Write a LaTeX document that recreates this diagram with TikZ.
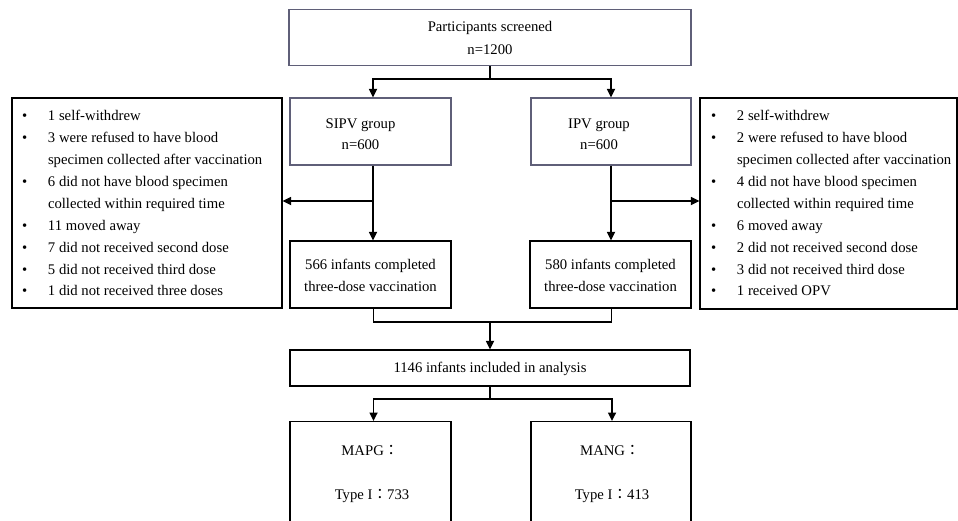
\documentclass[tikz,border=0pt]{standalone}
\usepackage{fontspec}
\setmainfont{Liberation Serif}
\newfontfamily\cjk{Noto Sans CJK TC}
\usetikzlibrary{arrows.meta}
\definecolor{edgegray}{RGB}{95,95,120}
\newcommand\myitem[1]{\makebox[26pt][l]{\textbullet}#1}
\newcommand\mycont[1]{\hspace*{26pt}#1}
% centred text block: x shift, y raise, lines
\newcommand\ctext[3]{\raisebox{#2}[\height][\depth]{\hspace*{#1}\begin{tabular}{@{}c@{}}#3\end{tabular}\hspace*{-#1}}}
% left-aligned text block: width, y raise, lines
\newcommand\ltext[3]{\raisebox{#2}[\height][\depth]{\makebox[#1][l]{\begin{tabular}{@{}l@{}}#3\end{tabular}}}}
\begin{document}
\begin{tikzpicture}[x=1pt,y=-1pt,
  box/.style={draw=black, line width=1.1pt, rectangle, inner sep=0pt},
  gbox/.style={box, draw=edgegray},
  lbl/.style={inner sep=0pt, font=\fontsize{14.7}{23}\selectfont, anchor=base},
  conn/.style={line width=1.7pt},
  arr/.style={conn, -{Triangle[length=8.5pt,width=8pt]}},
]
\clip (0,0) rectangle (958,520);
\fill[white] (0,0) rectangle (958,520);

% boxes
\node[gbox, minimum width=402pt, minimum height=56pt, font=\fontsize{14.7}{23}\selectfont] (top) at (490,37.5)
  {\ctext{0pt}{-1pt}{Participants screened\\n=1200}};
\node[gbox, minimum width=161pt, minimum height=67pt, font=\fontsize{14.7}{21}\selectfont] (sipv) at (370.5,131.5)
  {\ctext{-10pt}{-3pt}{SIPV group\\n=600}};
\node[gbox, minimum width=160pt, minimum height=67pt, font=\fontsize{14.7}{21}\selectfont] (ipv) at (611,131.5)
  {\ctext{-12pt}{-3pt}{IPV group\\n=600}};

\node[box, minimum width=270pt, minimum height=210pt, font=\fontsize{14.7}{21.9}\selectfont] (left) at (147,203)
  {\ltext{250pt}{-1pt}{\myitem{1 self-withdrew}\\
   \myitem{3 were refused to have blood}\\
   \mycont{specimen collected after vaccination}\\
   \myitem{6 did not have blood specimen}\\
   \mycont{collected within required time}\\
   \myitem{11 moved away}\\
   \myitem{7 did not received second dose}\\
   \myitem{5 did not received third dose}\\
   \myitem{1 did not received three doses}}};

\node[box, minimum width=257pt, minimum height=211pt, font=\fontsize{14.7}{21.9}\selectfont] (right) at (828.5,203.5)
  {\ltext{235pt}{-0.5pt}{\myitem{2 self-withdrew}\\
   \myitem{2 were refused to have blood}\\
   \mycont{specimen collected after vaccination}\\
   \myitem{4 did not have blood specimen}\\
   \mycont{collected within required time}\\
   \myitem{6 moved away}\\
   \myitem{2 did not received second dose}\\
   \myitem{3 did not received third dose}\\
   \myitem{1 received OPV}}};

\node[box, minimum width=161pt, minimum height=67pt, font=\fontsize{14.7}{22.4}\selectfont] (c566) at (370.5,274.5)
  {\ctext{0pt}{-1.5pt}{566 infants completed\\three-dose vaccination}};
\node[box, minimum width=161pt, minimum height=67pt, font=\fontsize{14.7}{22.4}\selectfont] (c580) at (610.5,274.5)
  {\ctext{0pt}{-1.5pt}{580 infants completed\\three-dose vaccination}};

\node[box, minimum width=400pt, minimum height=36pt, font=\fontsize{14.7}{23}\selectfont] (all) at (490,368)
  {\ctext{0pt}{0pt}{1146 infants included in analysis}};

\node[box, minimum width=161pt, minimum height=140pt, anchor=north] (mapg) at (370.5,421) {};
\node[box, minimum width=160pt, minimum height=140pt, anchor=north] (mang) at (611,421) {};
\node[lbl] (mapg1) at (370,455) {MAPG{\cjk：}};
\node[lbl] (mapg2) at (372,499.5) {Type I{\cjk：}733};
\node[lbl] (mang1) at (610,455) {MANG{\cjk：}};
\node[lbl] (mang2) at (612,499.5) {Type I{\cjk：}413};

% connectors
\coordinate (j1) at (490,79);
\draw[conn] (top) -- (j1);
\draw[arr] (j1) -| ([xshift=2.5pt]sipv.north);
\draw[arr] (j1) -| (ipv.north);

\draw[arr] ([xshift=2.5pt]sipv.south) -- ([xshift=2.5pt]c566.north);
\draw[arr] (ipv.south) -- (ipv.south |- c580.north);
\coordinate (s1) at ([xshift=2.5pt]sipv.south |- 0,201);
\coordinate (s2) at (ipv.south |- 0,201);
\draw[arr] (s1) -- (s1 -| left.east);
\draw[arr] (s2) -- (s2 -| right.west);

\coordinate (j2) at (490,322);
\draw[conn] ([xshift=3pt]c566.south) |- (j2) -| ([xshift=1pt]c580.south);
\draw[arr] (j2) -- (all);

\coordinate (j3) at (490,399);
\draw[conn] (all) -- (j3);
\draw[arr] (j3) -| ([xshift=3pt]mapg.north);
\draw[arr] (j3) -| ([xshift=1pt]mang.north);
\end{tikzpicture}
\end{document}
